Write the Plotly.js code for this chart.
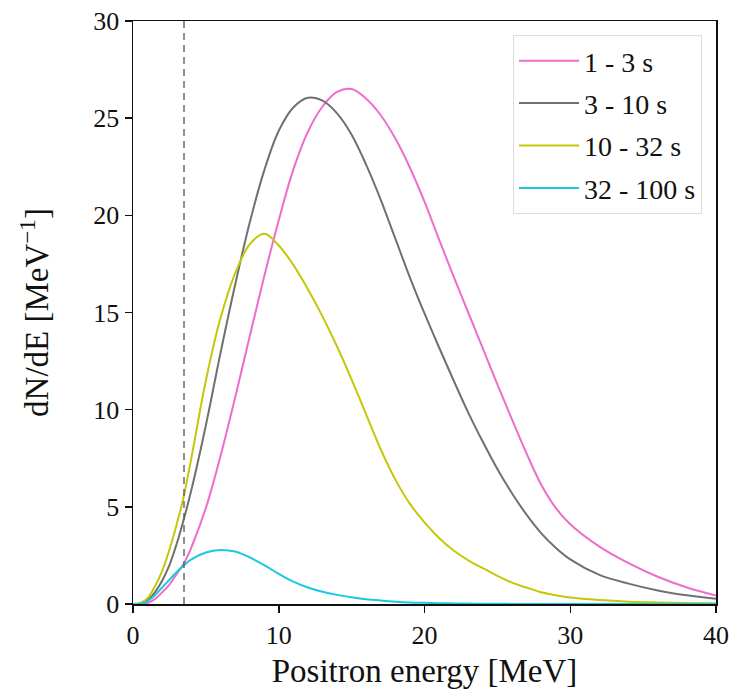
<!DOCTYPE html>
<html>
<head>
<meta charset="utf-8">
<script src="https://cdn.plot.ly/plotly-3.0.1.min.js"></script>
<style>html,body{margin:0;padding:0;background:#fff;}#plot{width:730px;height:695px;}</style>
</head>
<body>
<div id="plot"></div>
<script>
// Energy grid [MeV]
const energy = [0,0.5,1,1.5,2,2.5,3,3.5,4,5,6,7,8,9,10,11,12,13,14,15,16,17,18,19,20,21,22,23,24,25,26,27,28,29,30,32,34,36,38,40];
// dN/dE [MeV^-1] per time window
const s1_3 = [0,0,0.05,0.25,0.6,1.0,1.55,2.1,2.9,4.95,7.6,10.6,13.75,16.85,19.75,22.35,24.3,25.6,26.35,26.5,26.0,25.15,23.95,22.45,20.7,18.75,16.85,15.0,13.15,11.3,9.5,7.75,6.15,4.95,4.1,2.95,2.1,1.4,0.85,0.44];
const s3_10 = [0,0.03,0.2,0.6,1.2,2.0,3.1,4.4,5.85,9.2,12.9,16.4,19.6,22.3,24.35,25.55,26.05,25.9,25.25,24.15,22.6,20.8,18.8,16.8,14.95,13.2,11.5,9.85,8.35,6.95,5.7,4.6,3.65,2.9,2.3,1.5,1.05,0.7,0.45,0.27];
const s10_32 = [0,0.05,0.3,0.9,1.7,2.8,4.1,5.6,7.5,11.5,14.7,17.0,18.5,19.05,18.45,17.45,16.2,14.8,13.25,11.55,9.75,7.95,6.4,5.15,4.2,3.4,2.75,2.25,1.85,1.45,1.1,0.85,0.6,0.45,0.33,0.2,0.12,0.08,0.05,0.04];
const s32_100 = [0,0.02,0.15,0.45,0.85,1.25,1.65,2.0,2.3,2.65,2.78,2.7,2.4,2.0,1.55,1.15,0.85,0.63,0.47,0.35,0.25,0.18,0.12,0.08,0.06,0.04,0.03,0.02,0.015,0.01,0.005,0,0,0,0,0,0,0,0,0];
const seriesNames = ["1 - 3 s","3 - 10 s","10 - 32 s","32 - 100 s"];
const seriesColors = ["#ee6dcb","#707070","#c6c708","#1ac9e0"];
const thresholdE = 3.5;
const yMax = 30;

const data = [s1_3, s3_10, s10_32, s32_100].map((ys, i) => ({
  x: energy, y: ys, type: "scatter", mode: "lines", name: seriesNames[i],
  legendgroup: "g" + i,
  line: {color: seriesColors[i], width: 2, shape: "spline", smoothing: 1}
}));
data.push({x: [thresholdE, thresholdE], y: [0, yMax], type: "scatter", mode: "lines",
  showlegend: false, hoverinfo: "skip", line: {color: "#606060", width: 1.4, dash: "7px,5px"}});

const font = "Liberation Serif";
const layout = {
  width: 730, height: 695,
  margin: {l: 133, r: 14, t: 21, b: 91},
  paper_bgcolor: "#fff", plot_bgcolor: "#fff",
  font: {family: font, color: "#111", size: 26},
  showlegend: true,
  legend: {x: 0.976, y: 0.976, xanchor: "right", yanchor: "top",
    bgcolor: "#fff", bordercolor: "#dddddd", borderwidth: 1,
    font: {family: font, size: 28, color: "#111"}, tracegroupgap: 3, itemwidth: 60},
  xaxis: {range: [0, 40], tickvals: [0,10,20,30,40], showgrid: false, zeroline: false,
    showline: true, mirror: true, linecolor: "#111", linewidth: 1.5,
    ticks: "outside", ticklen: 7, tickwidth: 1.5, tickcolor: "#111",
    tickfont: {family: font, size: 26},
    title: {text: "Positron energy [MeV]", font: {family: font, size: 33}, standoff: 10}},
  yaxis: {range: [0, yMax], tickvals: [0,5,10,15,20,25,30], showgrid: false, zeroline: false,
    showline: true, mirror: true, linecolor: "#111", linewidth: 1.5,
    ticks: "outside", ticklen: 7, tickwidth: 1.5, tickcolor: "#111",
    tickfont: {family: font, size: 26},
    title: {text: "dN/dE [MeV<sup>\u22121</sup>]", font: {family: font, size: 33}, standoff: 34}}
};
Plotly.newPlot("plot", data, layout, {staticPlot: true, displayModeBar: false});
</script>
</body>
</html>
